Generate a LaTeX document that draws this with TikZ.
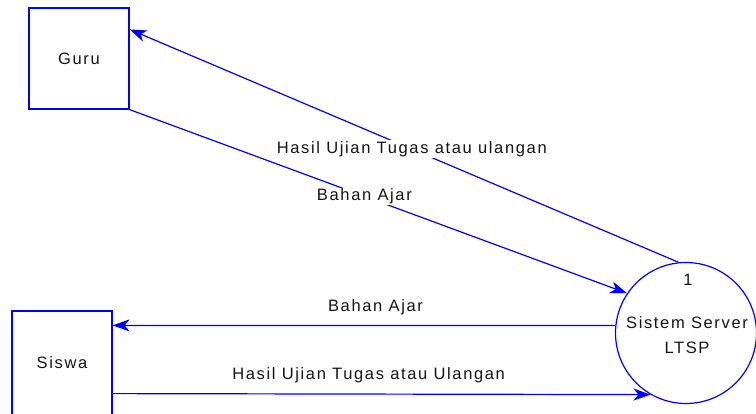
\documentclass[tikz,border=0pt]{standalone}
\usepackage{fontspec}
\setmainfont{Liberation Sans}[LetterSpace=10]
\usetikzlibrary{arrows.meta,calc}
\definecolor{dfdblue}{RGB}{0,0,255}
\definecolor{dfdtext}{RGB}{20,20,20}
\begin{document}
\begin{tikzpicture}[x=1pt,y=-1pt,
  txt/.style={text=dfdtext,font=\fontsize{16.5}{25}\selectfont},
  entity/.style={txt,draw=dfdblue,line width=1.2pt,minimum width=100pt,inner sep=0pt},
  process/.style={draw=dfdblue,line width=1.2pt,circle,minimum size=141pt,inner sep=0pt},
  flow/.style={draw=dfdblue,line width=1.2pt,-{Stealth[length=17pt,width=12pt,inset=5pt]}},
  lbl/.style={txt,fill=white,inner sep=1pt}
]
\useasboundingbox (0,0) rectangle (756,413);
\node[entity,minimum height=101pt] (guru) at (79,58.5) {Guru};
\node[entity,minimum height=104pt] (siswa) at (62,363) {Siswa};
\node[process] (srv) at (686,333) {};
\node[txt] (num) at ($(srv.center)+(2,-53)$) {1};
\node[txt,align=center] (srvtxt) at ($(srv.center)+(1,2)$) {Sistem Server\\LTSP};
\draw[flow] (srv.96) -- node[lbl,pos=0.486] (l1) {Hasil Ujian Tugas atau ulangan} ($(guru.north east)+(0,22)$);
\draw[flow] (guru.south east) -- node[lbl,pos=0.472] (l2) {Bahan Ajar} (srv.146);
\draw[flow] (srv.174) -- node[txt,pos=0.477,above=7pt] (l3) {Bahan Ajar} ($(siswa.north east)+(0,15)$);
\draw[flow] ($(siswa.south east)+(0,-22)$) -- node[txt,pos=0.476,above=7pt] (l4) {Hasil Ujian Tugas atau Ulangan} (srv.240);
\end{tikzpicture}
\end{document}
